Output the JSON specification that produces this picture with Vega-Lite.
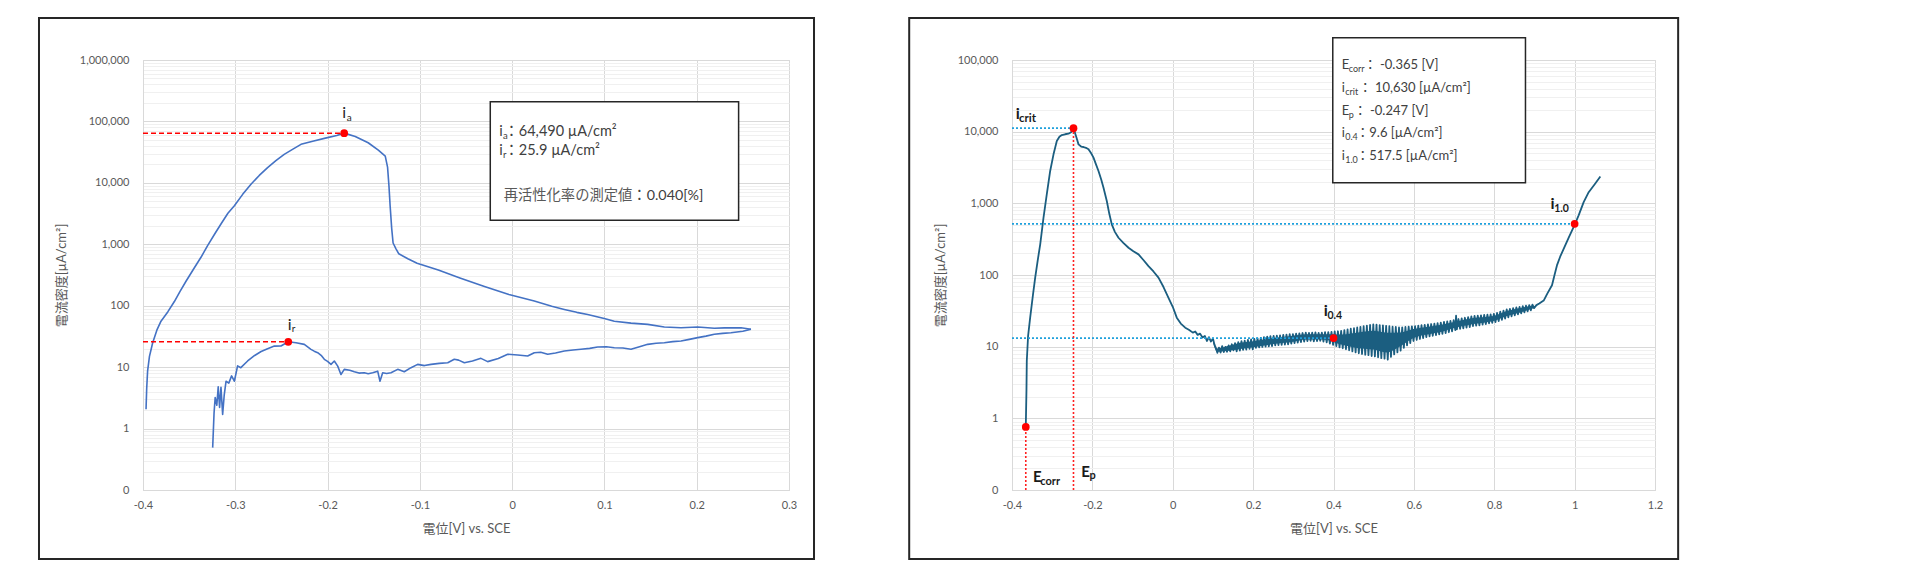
{
  "$schema": "https://vega.github.io/schema/vega-lite/v6.json",
  "background": "white",
  "padding": {"left": 37, "top": 16, "right": 5, "bottom": 5},
  "spacing": 91,
  "config": {
    "font": "Lato, 'Noto Sans CJK JP', sans-serif",
    "view": {"stroke": "#d9d9d9"},
    "axis": {
      "labelFont": "Lato, 'Noto Sans CJK JP', sans-serif",
      "labelFontSize": 11,
      "labelColor": "#595959",
      "titleFont": "Lato, 'Noto Sans CJK JP', sans-serif",
      "titleFontSize": 13,
      "titleFontWeight": "normal",
      "titleColor": "#595959",
      "domainColor": "#d9d9d9",
      "gridColor": "#d9d9d9",
      "ticks": false,
      "labelFlush": false,
      "labelOverlap": false
    },
    "text": {"font": "Lato, 'Noto Sans CJK JP', sans-serif"}
  },
  "datasets": {
    "left_curve": [
      {"scan": "f", "v": -0.3967, "i": 2.06}, {"scan": "f", "v": -0.396, "i": 4.5}, {"scan": "f", "v": -0.395, "i": 8.7},
      {"scan": "f", "v": -0.393, "i": 15}, {"scan": "f", "v": -0.3895, "i": 25}, {"scan": "f", "v": -0.385, "i": 40},
      {"scan": "f", "v": -0.3805, "i": 56}, {"scan": "f", "v": -0.373, "i": 80}, {"scan": "f", "v": -0.366, "i": 117},
      {"scan": "f", "v": -0.36, "i": 170}, {"scan": "f", "v": -0.3534, "i": 250}, {"scan": "f", "v": -0.345, "i": 400},
      {"scan": "f", "v": -0.337, "i": 620}, {"scan": "f", "v": -0.33, "i": 950}, {"scan": "f", "v": -0.322, "i": 1500},
      {"scan": "f", "v": -0.315, "i": 2200}, {"scan": "f", "v": -0.308, "i": 3200}, {"scan": "f", "v": -0.301, "i": 4240},
      {"scan": "f", "v": -0.292, "i": 6500}, {"scan": "f", "v": -0.283, "i": 9500}, {"scan": "f", "v": -0.274, "i": 13200},
      {"scan": "f", "v": -0.265, "i": 17700}, {"scan": "f", "v": -0.256, "i": 23000}, {"scan": "f", "v": -0.247, "i": 29100},
      {"scan": "f", "v": -0.238, "i": 35000}, {"scan": "f", "v": -0.2288, "i": 42400}, {"scan": "f", "v": -0.215, "i": 48000},
      {"scan": "f", "v": -0.2024, "i": 53500}, {"scan": "f", "v": -0.19, "i": 59000}, {"scan": "f", "v": -0.182, "i": 64490},
      {"scan": "f", "v": -0.17, "i": 57000}, {"scan": "f", "v": -0.156, "i": 45000}, {"scan": "f", "v": -0.145, "i": 34000},
      {"scan": "f", "v": -0.1375, "i": 27200}, {"scan": "f", "v": -0.135, "i": 18000}, {"scan": "f", "v": -0.1335, "i": 9000},
      {"scan": "f", "v": -0.1322, "i": 4200}, {"scan": "f", "v": -0.1305, "i": 1800}, {"scan": "f", "v": -0.129, "i": 1050},
      {"scan": "f", "v": -0.126, "i": 850}, {"scan": "f", "v": -0.1228, "i": 700}, {"scan": "f", "v": -0.113, "i": 580},
      {"scan": "f", "v": -0.103, "i": 492}, {"scan": "f", "v": -0.08, "i": 380}, {"scan": "f", "v": -0.0566, "i": 283},
      {"scan": "f", "v": -0.03, "i": 205}, {"scan": "f", "v": -0.0035, "i": 152}, {"scan": "f", "v": 0.024, "i": 119},
      {"scan": "f", "v": 0.0429, "i": 98}, {"scan": "f", "v": 0.0565, "i": 87}, {"scan": "f", "v": 0.07, "i": 78},
      {"scan": "f", "v": 0.0818, "i": 72}, {"scan": "f", "v": 0.0998, "i": 62}, {"scan": "f", "v": 0.1107, "i": 56},
      {"scan": "f", "v": 0.1288, "i": 52}, {"scan": "f", "v": 0.1469, "i": 49.7}, {"scan": "f", "v": 0.1649, "i": 45},
      {"scan": "f", "v": 0.183, "i": 43.8}, {"scan": "f", "v": 0.2011, "i": 45}, {"scan": "f", "v": 0.2191, "i": 42.9},
      {"scan": "f", "v": 0.23, "i": 43.5}, {"scan": "f", "v": 0.248, "i": 43.8}, {"scan": "f", "v": 0.2588, "i": 41.3},
      {"scan": "r", "v": 0.2588, "i": 41.3}, {"scan": "r", "v": 0.25, "i": 38.5}, {"scan": "r", "v": 0.2371, "i": 36.4},
      {"scan": "r", "v": 0.228, "i": 35.5}, {"scan": "r", "v": 0.2191, "i": 34.3}, {"scan": "r", "v": 0.21, "i": 32},
      {"scan": "r", "v": 0.2011, "i": 30.2}, {"scan": "r", "v": 0.192, "i": 28.3}, {"scan": "r", "v": 0.183, "i": 26.7},
      {"scan": "r", "v": 0.174, "i": 26}, {"scan": "r", "v": 0.1649, "i": 25}, {"scan": "r", "v": 0.156, "i": 24.5},
      {"scan": "r", "v": 0.1469, "i": 23.5}, {"scan": "r", "v": 0.138, "i": 21.5}, {"scan": "r", "v": 0.1288, "i": 19.5},
      {"scan": "r", "v": 0.12, "i": 20.5}, {"scan": "r", "v": 0.1107, "i": 20.7}, {"scan": "r", "v": 0.102, "i": 21.5},
      {"scan": "r", "v": 0.0927, "i": 21.3}, {"scan": "r", "v": 0.084, "i": 20.2}, {"scan": "r", "v": 0.0746, "i": 19.5},
      {"scan": "r", "v": 0.066, "i": 19}, {"scan": "r", "v": 0.0565, "i": 18.3}, {"scan": "r", "v": 0.047, "i": 17},
      {"scan": "r", "v": 0.0385, "i": 16.2}, {"scan": "r", "v": 0.031, "i": 17.5}, {"scan": "r", "v": 0.024, "i": 17.2},
      {"scan": "r", "v": 0.0168, "i": 15.2}, {"scan": "r", "v": 0.006, "i": 15.8}, {"scan": "r", "v": -0.0048, "i": 16.2},
      {"scan": "r", "v": -0.015, "i": 13.8}, {"scan": "r", "v": -0.0265, "i": 12.3}, {"scan": "r", "v": -0.0338, "i": 13.9},
      {"scan": "r", "v": -0.043, "i": 12.6}, {"scan": "r", "v": -0.0518, "i": 11.8}, {"scan": "r", "v": -0.058, "i": 13},
      {"scan": "r", "v": -0.0627, "i": 13.4}, {"scan": "r", "v": -0.0698, "i": 11.8}, {"scan": "r", "v": -0.079, "i": 11.5},
      {"scan": "r", "v": -0.0879, "i": 11.1}, {"scan": "r", "v": -0.095, "i": 10.6}, {"scan": "r", "v": -0.1024, "i": 11.1},
      {"scan": "r", "v": -0.1096, "i": 9.8}, {"scan": "r", "v": -0.1169, "i": 8.4}, {"scan": "r", "v": -0.124, "i": 9.2},
      {"scan": "r", "v": -0.1313, "i": 8.1}, {"scan": "r", "v": -0.136, "i": 7.9}, {"scan": "r", "v": -0.1403, "i": 8.1},
      {"scan": "r", "v": -0.1432, "i": 5.9}, {"scan": "r", "v": -0.1457, "i": 8.6}, {"scan": "r", "v": -0.1511, "i": 8.1},
      {"scan": "r", "v": -0.156, "i": 7.8}, {"scan": "r", "v": -0.1602, "i": 8.1}, {"scan": "r", "v": -0.166, "i": 8},
      {"scan": "r", "v": -0.171, "i": 8.4}, {"scan": "r", "v": -0.176, "i": 8.9}, {"scan": "r", "v": -0.1819, "i": 9.2},
      {"scan": "r", "v": -0.1855, "i": 7.6}, {"scan": "r", "v": -0.189, "i": 10.4}, {"scan": "r", "v": -0.1927, "i": 12.6},
      {"scan": "r", "v": -0.1963, "i": 11.1}, {"scan": "r", "v": -0.2, "i": 12.4}, {"scan": "r", "v": -0.2035, "i": 13.4},
      {"scan": "r", "v": -0.207, "i": 15.6}, {"scan": "r", "v": -0.2107, "i": 17.2}, {"scan": "r", "v": -0.2145, "i": 18.2},
      {"scan": "r", "v": -0.218, "i": 19.5}, {"scan": "r", "v": -0.2252, "i": 23.5}, {"scan": "r", "v": -0.2342, "i": 25},
      {"scan": "r", "v": -0.2426, "i": 25.9}, {"scan": "r", "v": -0.2505, "i": 22.1}, {"scan": "r", "v": -0.2577, "i": 22},
      {"scan": "r", "v": -0.265, "i": 20}, {"scan": "r", "v": -0.272, "i": 18}, {"scan": "r", "v": -0.279, "i": 15.5},
      {"scan": "r", "v": -0.2866, "i": 12.6}, {"scan": "r", "v": -0.294, "i": 9.8}, {"scan": "r", "v": -0.2975, "i": 10.5},
      {"scan": "r", "v": -0.301, "i": 5.9}, {"scan": "r", "v": -0.304, "i": 7.2}, {"scan": "r", "v": -0.307, "i": 5.5},
      {"scan": "r", "v": -0.31, "i": 5.9}, {"scan": "r", "v": -0.312, "i": 3.5}, {"scan": "r", "v": -0.3137, "i": 1.7},
      {"scan": "r", "v": -0.3155, "i": 4.7}, {"scan": "r", "v": -0.317, "i": 2.2}, {"scan": "r", "v": -0.3185, "i": 4.8},
      {"scan": "r", "v": -0.32, "i": 2.4}, {"scan": "r", "v": -0.3218, "i": 3.2}, {"scan": "r", "v": -0.323, "i": 1.8},
      {"scan": "r", "v": -0.3245, "i": 0.49}
    ],
    "left_marks": [
      {"name": "ia", "v": -0.182, "i": 64490},
      {"name": "ir", "v": -0.2426, "i": 25.9}
    ],
    "left_guides": [
      {"g": "ia", "v": -0.4, "i": 64490}, {"g": "ia", "v": -0.182, "i": 64490},
      {"g": "ir", "v": -0.4, "i": 25.9}, {"g": "ir", "v": -0.2426, "i": 25.9}
    ],
    "right_curve": [
      {"v": -0.3657, "i": 0.76}, {"v": -0.364, "i": 2.5}, {"v": -0.3632, "i": 6.3}, {"v": -0.36, "i": 14},
      {"v": -0.3548, "i": 25.4}, {"v": -0.348, "i": 52}, {"v": -0.3423, "i": 92}, {"v": -0.336, "i": 160},
      {"v": -0.3298, "i": 268}, {"v": -0.3216, "i": 631}, {"v": -0.3134, "i": 1340}, {"v": -0.305, "i": 2830},
      {"v": -0.2967, "i": 4830}, {"v": -0.2885, "i": 7410}, {"v": -0.282, "i": 8500}, {"v": -0.276, "i": 8980},
      {"v": -0.268, "i": 9200}, {"v": -0.2594, "i": 9370}, {"v": -0.253, "i": 9800}, {"v": -0.247, "i": 11200},
      {"v": -0.24, "i": 8400}, {"v": -0.2345, "i": 6650}, {"v": -0.228, "i": 6200}, {"v": -0.2221, "i": 6110},
      {"v": -0.216, "i": 5950}, {"v": -0.2097, "i": 5680}, {"v": -0.203, "i": 5000}, {"v": -0.1972, "i": 4340},
      {"v": -0.191, "i": 3500}, {"v": -0.1848, "i": 2830}, {"v": -0.178, "i": 2150}, {"v": -0.1723, "i": 1650},
      {"v": -0.1641, "i": 1077}, {"v": -0.158, "i": 720}, {"v": -0.1517, "i": 509}, {"v": -0.144, "i": 400},
      {"v": -0.135, "i": 331}, {"v": -0.123, "i": 280}, {"v": -0.1101, "i": 240}, {"v": -0.098, "i": 215},
      {"v": -0.0852, "i": 194}, {"v": -0.073, "i": 162}, {"v": -0.0604, "i": 133}, {"v": -0.048, "i": 112},
      {"v": -0.0355, "i": 92}, {"v": -0.023, "i": 68}, {"v": -0.0106, "i": 48}, {"v": 0, "i": 36},
      {"v": 0.01, "i": 25.4}, {"v": 0.02, "i": 21}, {"v": 0.031, "i": 18.4}, {"v": 0.04, "i": 17.2},
      {"v": 0.05, "i": 15.7}, {"v": 0.056, "i": 16.3}, {"v": 0.062, "i": 14.6}, {"v": 0.068, "i": 15.2},
      {"v": 0.074, "i": 13.4}, {"v": 0.08, "i": 14.1}, {"v": 0.085, "i": 12}, {"v": 0.09, "i": 13.6},
      {"v": 0.095, "i": 11.8}, {"v": 0.1, "i": 13}, {"v": 0.104, "i": 10.6}, {"v": 0.108, "i": 9.4},
      {"v": 0.111, "i": 8.2}, {"v": 0.115, "i": 9.7}, {"v": 0.119, "i": 8.3}, {"v": 0.123, "i": 10.2},
      {"v": 0.127, "i": 8.4}, {"v": 0.131, "i": 9.9}, {"v": 0.135, "i": 8.5}, {"v": 0.139, "i": 10.4},
      {"v": 0.143, "i": 8.6}, {"v": 0.147, "i": 10.8}, {"v": 0.151, "i": 8.9}, {"v": 0.155, "i": 11.2},
      {"v": 0.159, "i": 8.6}, {"v": 0.163, "i": 11.6}, {"v": 0.167, "i": 8.8}, {"v": 0.171, "i": 11.9},
      {"v": 0.175, "i": 9}, {"v": 0.179, "i": 12.1}, {"v": 0.183, "i": 9.1}, {"v": 0.187, "i": 12.4},
      {"v": 0.191, "i": 9.3}, {"v": 0.195, "i": 12.6}, {"v": 0.199, "i": 9.2}, {"v": 0.203, "i": 12.8},
      {"v": 0.207, "i": 9.6}, {"v": 0.211, "i": 13}, {"v": 0.215, "i": 9.8}, {"v": 0.219, "i": 13.3},
      {"v": 0.223, "i": 9.9}, {"v": 0.227, "i": 13.6}, {"v": 0.231, "i": 10}, {"v": 0.235, "i": 13.8},
      {"v": 0.239, "i": 10.1}, {"v": 0.243, "i": 14}, {"v": 0.247, "i": 10.2}, {"v": 0.251, "i": 14.1},
      {"v": 0.255, "i": 10.4}, {"v": 0.259, "i": 14.2}, {"v": 0.263, "i": 10.5}, {"v": 0.267, "i": 14.4},
      {"v": 0.271, "i": 10.6}, {"v": 0.275, "i": 14.6}, {"v": 0.279, "i": 10.7}, {"v": 0.283, "i": 14.7},
      {"v": 0.287, "i": 10.8}, {"v": 0.291, "i": 14.9}, {"v": 0.295, "i": 11}, {"v": 0.299, "i": 15},
      {"v": 0.303, "i": 11.2}, {"v": 0.307, "i": 15.2}, {"v": 0.311, "i": 11.4}, {"v": 0.315, "i": 15.3},
      {"v": 0.319, "i": 11.6}, {"v": 0.323, "i": 15.5}, {"v": 0.327, "i": 11.8}, {"v": 0.331, "i": 15.7},
      {"v": 0.335, "i": 12}, {"v": 0.339, "i": 15.6}, {"v": 0.343, "i": 12.1}, {"v": 0.347, "i": 15.7},
      {"v": 0.351, "i": 11.9}, {"v": 0.355, "i": 15.8}, {"v": 0.359, "i": 12}, {"v": 0.363, "i": 15.6},
      {"v": 0.367, "i": 12.1}, {"v": 0.371, "i": 15.7}, {"v": 0.375, "i": 11.8}, {"v": 0.379, "i": 15.9},
      {"v": 0.383, "i": 11.5}, {"v": 0.387, "i": 16}, {"v": 0.391, "i": 11}, {"v": 0.395, "i": 16.1},
      {"v": 0.399, "i": 10.6}, {"v": 0.403, "i": 16.3}, {"v": 0.407, "i": 10.2}, {"v": 0.411, "i": 16.4},
      {"v": 0.415, "i": 9.8}, {"v": 0.419, "i": 16.6}, {"v": 0.423, "i": 9.5}, {"v": 0.427, "i": 17},
      {"v": 0.431, "i": 9.2}, {"v": 0.435, "i": 17.4}, {"v": 0.439, "i": 8.9}, {"v": 0.443, "i": 17.8},
      {"v": 0.447, "i": 8.6}, {"v": 0.451, "i": 18.1}, {"v": 0.455, "i": 8.3}, {"v": 0.459, "i": 18.5},
      {"v": 0.463, "i": 8.1}, {"v": 0.467, "i": 18.9}, {"v": 0.471, "i": 7.9}, {"v": 0.475, "i": 19.3},
      {"v": 0.479, "i": 7.7}, {"v": 0.483, "i": 19.7}, {"v": 0.487, "i": 7.6}, {"v": 0.491, "i": 20.1},
      {"v": 0.495, "i": 7.4}, {"v": 0.499, "i": 20.5}, {"v": 0.503, "i": 7.3}, {"v": 0.507, "i": 20.3},
      {"v": 0.511, "i": 7.1}, {"v": 0.515, "i": 20}, {"v": 0.519, "i": 6.9}, {"v": 0.523, "i": 19.8},
      {"v": 0.527, "i": 6.8}, {"v": 0.531, "i": 19.5}, {"v": 0.535, "i": 6.6}, {"v": 0.539, "i": 19.3},
      {"v": 0.543, "i": 7.2}, {"v": 0.547, "i": 19}, {"v": 0.551, "i": 7.8}, {"v": 0.555, "i": 18.8},
      {"v": 0.559, "i": 8.3}, {"v": 0.563, "i": 18.5}, {"v": 0.567, "i": 8.8}, {"v": 0.571, "i": 18.6},
      {"v": 0.575, "i": 9.6}, {"v": 0.579, "i": 18.8}, {"v": 0.583, "i": 10.4}, {"v": 0.587, "i": 19},
      {"v": 0.591, "i": 11.2}, {"v": 0.595, "i": 19.2}, {"v": 0.599, "i": 12}, {"v": 0.603, "i": 19.4},
      {"v": 0.607, "i": 12.4}, {"v": 0.611, "i": 19.7}, {"v": 0.615, "i": 12.8}, {"v": 0.619, "i": 19.9},
      {"v": 0.623, "i": 13.2}, {"v": 0.627, "i": 20.2}, {"v": 0.631, "i": 13.6}, {"v": 0.635, "i": 20.4},
      {"v": 0.639, "i": 13.9}, {"v": 0.643, "i": 20.7}, {"v": 0.647, "i": 14.2}, {"v": 0.651, "i": 20.9},
      {"v": 0.655, "i": 14.5}, {"v": 0.659, "i": 21.3}, {"v": 0.663, "i": 14.8}, {"v": 0.667, "i": 21.7},
      {"v": 0.671, "i": 15.1}, {"v": 0.675, "i": 22.1}, {"v": 0.679, "i": 15.5}, {"v": 0.683, "i": 22.5},
      {"v": 0.687, "i": 15.9}, {"v": 0.691, "i": 22.9}, {"v": 0.695, "i": 16.4}, {"v": 0.699, "i": 23.4},
      {"v": 0.703, "i": 17}, {"v": 0.705, "i": 27}, {"v": 0.707, "i": 17.5}, {"v": 0.711, "i": 24.3},
      {"v": 0.715, "i": 17.7}, {"v": 0.719, "i": 24.8}, {"v": 0.723, "i": 18}, {"v": 0.727, "i": 25.3},
      {"v": 0.731, "i": 18.4}, {"v": 0.735, "i": 25.8}, {"v": 0.739, "i": 18.8}, {"v": 0.743, "i": 26.4},
      {"v": 0.747, "i": 19.3}, {"v": 0.751, "i": 26.9}, {"v": 0.755, "i": 19.6}, {"v": 0.759, "i": 27.1},
      {"v": 0.763, "i": 19.9}, {"v": 0.767, "i": 27.4}, {"v": 0.771, "i": 20.3}, {"v": 0.775, "i": 27.7},
      {"v": 0.779, "i": 20.7}, {"v": 0.783, "i": 28}, {"v": 0.787, "i": 21.1}, {"v": 0.791, "i": 28.2},
      {"v": 0.795, "i": 21.5}, {"v": 0.799, "i": 28.6}, {"v": 0.803, "i": 22}, {"v": 0.807, "i": 29.6},
      {"v": 0.811, "i": 22.8}, {"v": 0.815, "i": 30.7}, {"v": 0.819, "i": 23.6}, {"v": 0.823, "i": 31.7},
      {"v": 0.827, "i": 24.6}, {"v": 0.831, "i": 33}, {"v": 0.835, "i": 25.6}, {"v": 0.839, "i": 33.6},
      {"v": 0.843, "i": 26.5}, {"v": 0.847, "i": 34.4}, {"v": 0.851, "i": 27.4}, {"v": 0.855, "i": 35.2},
      {"v": 0.859, "i": 28.3}, {"v": 0.863, "i": 35.9}, {"v": 0.867, "i": 29.2}, {"v": 0.871, "i": 36.8},
      {"v": 0.875, "i": 30.2}, {"v": 0.879, "i": 37.3}, {"v": 0.883, "i": 31.1}, {"v": 0.887, "i": 37.9},
      {"v": 0.891, "i": 32.2}, {"v": 0.895, "i": 38.6}, {"v": 0.899, "i": 34.5}, {"v": 0.905, "i": 38},
      {"v": 0.912, "i": 40}, {"v": 0.923, "i": 44}, {"v": 0.932, "i": 55}, {"v": 0.9437, "i": 72},
      {"v": 0.95, "i": 100}, {"v": 0.956, "i": 136}, {"v": 0.964, "i": 180}, {"v": 0.9727, "i": 232},
      {"v": 0.985, "i": 330}, {"v": 1, "i": 500}, {"v": 1.01, "i": 680}, {"v": 1.0225, "i": 1040},
      {"v": 1.035, "i": 1430}, {"v": 1.05, "i": 1850}, {"v": 1.064, "i": 2370}
    ],
    "right_band": [
      {"v": 0.1, "lo": 11.5, "hi": 13}, {"v": 0.11, "lo": 8.5, "hi": 9.4}, {"v": 0.126, "lo": 8.6, "hi": 9.8},
      {"v": 0.168, "lo": 9.3, "hi": 11.3}, {"v": 0.201, "lo": 9.8, "hi": 11.9}, {"v": 0.25, "lo": 10.9, "hi": 13.2},
      {"v": 0.292, "lo": 11.5, "hi": 14}, {"v": 0.333, "lo": 12.6, "hi": 14.9}, {"v": 0.375, "lo": 12.6, "hi": 14.9},
      {"v": 0.4166, "lo": 10.8, "hi": 14.8}, {"v": 0.458, "lo": 9.6, "hi": 15.7}, {"v": 0.4995, "lo": 9.1, "hi": 16.7},
      {"v": 0.5326, "lo": 8.3, "hi": 15.7}, {"v": 0.566, "lo": 10.1, "hi": 15.8}, {"v": 0.599, "lo": 13.2, "hi": 17.6},
      {"v": 0.6655, "lo": 16, "hi": 20.1}, {"v": 0.7068, "lo": 18.7, "hi": 22.5}, {"v": 0.7483, "lo": 20.7, "hi": 25.1},
      {"v": 0.798, "lo": 22.8, "hi": 26.8}, {"v": 0.8312, "lo": 26.8, "hi": 31.5}, {"v": 0.8727, "lo": 31, "hi": 35.3},
      {"v": 0.8976, "lo": 34.3, "hi": 37.8}
    ],
    "right_marks": [
      {"name": "Ecorr", "v": -0.3657, "i": 0.76},
      {"name": "icrit", "v": -0.247, "i": 11200},
      {"name": "i0.4", "v": 0.4, "i": 13.2},
      {"name": "i1.0", "v": 1.0, "i": 517.5}
    ],
    "right_hguides": [
      {"g": "icrit", "v": -0.4, "i": 11200}, {"g": "icrit", "v": -0.247, "i": 11200},
      {"g": "i0.4", "v": -0.4, "i": 13.2}, {"g": "i0.4", "v": 0.4, "i": 13.2},
      {"g": "i1.0", "v": -0.4, "i": 517.5}, {"g": "i1.0", "v": 1.0, "i": 517.5}
    ],
    "right_vguides": [
      {"g": "Ecorr", "v": -0.3657, "i": 0.1}, {"g": "Ecorr", "v": -0.3657, "i": 0.76},
      {"g": "Ep", "v": -0.247, "i": 0.1}, {"g": "Ep", "v": -0.247, "i": 11200}
    ]
  },
  "hconcat": [
    {
      "width": 646,
      "height": 430,
      "layer": [
        {
          "data": {"name": "left_curve"},
          "mark": {"type": "line", "color": "#4472C4", "strokeWidth": 1.6, "strokeJoin": "round"},
          "encoding": {
            "x": {
              "field": "v", "type": "quantitative",
              "scale": {"domain": [-0.4, 0.3]},
              "axis": {
                "title": "電位[V] vs. SCE",
                "values": [-0.4, -0.3, -0.2, -0.1, 0, 0.1, 0.2, 0.3],
                "format": ".1~f",
                "labelExpr": "replace(datum.label, '−', '-')",
                "labelPadding": 9,
                "titlePadding": 12
              }
            },
            "y": {
              "field": "i", "type": "quantitative",
              "scale": {"type": "log", "domain": [0.1, 1000000]},
              "axis": {
                "title": "電流密度[µA/cm²]",
                "values": [0.1, 0.2, 0.3, 0.4, 0.5, 0.6, 0.7, 0.8, 0.9, 1, 2, 3, 4, 5, 6, 7, 8, 9, 10, 20, 30, 40, 50, 60, 70, 80, 90, 100, 200, 300, 400, 500, 600, 700, 800, 900, 1000, 2000, 3000, 4000, 5000, 6000, 7000, 8000, 9000, 10000, 20000, 30000, 40000, 50000, 60000, 70000, 80000, 90000, 100000, 200000, 300000, 400000, 500000, 600000, 700000, 800000, 900000, 1000000],
                "labelExpr": "abs(log(datum.value) / LN10 - round(log(datum.value) / LN10)) > 0.01 ? '' : (datum.value < 0.5 ? '0' : format(datum.value, ','))",
                "gridColor": {"condition": {"test": "abs(log(datum.value) / LN10 - round(log(datum.value) / LN10)) < 0.01", "value": "#d9d9d9"}, "value": "#f0f0f0"},
                "labelPadding": 14,
                "titlePadding": 11
              }
            },
            "detail": {"field": "scan", "type": "nominal"}
          }
        },
        {
          "data": {"name": "left_guides"},
          "mark": {"type": "line", "color": "#ff0000", "strokeWidth": 1.5, "strokeDash": [5, 3]},
          "encoding": {
            "x": {"field": "v", "type": "quantitative"},
            "y": {"field": "i", "type": "quantitative"},
            "detail": {"field": "g", "type": "nominal"}
          }
        },
        {
          "data": {"name": "left_marks"},
          "mark": {"type": "circle", "color": "#ff0000", "size": 60, "opacity": 1},
          "encoding": {
            "x": {"field": "v", "type": "quantitative"},
            "y": {"field": "i", "type": "quantitative"}
          }
        },
        {
          "data": {"values": [{}]},
          "mark": {"type": "text", "text": "i", "fontSize": 16, "color": "#262626", "align": "left", "baseline": "alphabetic", "dx": -2, "dy": -15},
          "encoding": {"x": {"datum": -0.182, "type": "quantitative"}, "y": {"datum": 64490, "type": "quantitative"}}
        },
        {
          "data": {"values": [{}]},
          "mark": {"type": "text", "text": "a", "fontSize": 10, "color": "#262626", "align": "left", "baseline": "alphabetic", "dx": 2.5, "dy": -12},
          "encoding": {"x": {"datum": -0.182, "type": "quantitative"}, "y": {"datum": 64490, "type": "quantitative"}}
        },
        {
          "data": {"values": [{}]},
          "mark": {"type": "text", "text": "i", "fontSize": 16, "color": "#262626", "align": "left", "baseline": "alphabetic", "dx": -0.5, "dy": -12},
          "encoding": {"x": {"datum": -0.2426, "type": "quantitative"}, "y": {"datum": 25.9, "type": "quantitative"}}
        },
        {
          "data": {"values": [{}]},
          "mark": {"type": "text", "text": "r", "fontSize": 10, "color": "#262626", "align": "left", "baseline": "alphabetic", "dx": 3.5, "dy": -10},
          "encoding": {"x": {"datum": -0.2426, "type": "quantitative"}, "y": {"datum": 25.9, "type": "quantitative"}}
        },
        {
          "data": {"values": [{}]},
          "mark": {"type": "rect", "fill": "white", "stroke": "#262626", "strokeWidth": 1.5},
          "encoding": {
            "x": {"datum": -0.0237, "type": "quantitative"}, "x2": {"datum": 0.2454, "type": "quantitative"},
            "y": {"datum": 209400, "type": "quantitative"}, "y2": {"datum": 2455, "type": "quantitative"}
          }
        },
        {
          "data": {"values": [{}]},
          "mark": {"type": "text", "text": ["i", "i"], "lineHeight": 19.3, "fontSize": 14.5, "color": "#404040", "align": "left", "baseline": "alphabetic", "dx": 9, "dy": 34.3},
          "encoding": {"x": {"datum": -0.0237, "type": "quantitative"}, "y": {"datum": 209400, "type": "quantitative"}}
        },
        {
          "data": {"values": [{}]},
          "mark": {"type": "text", "text": ["a", "r"], "lineHeight": 19.3, "fontSize": 9.5, "color": "#404040", "align": "left", "baseline": "alphabetic", "dx": 12.8, "dy": 37.3},
          "encoding": {"x": {"datum": -0.0237, "type": "quantitative"}, "y": {"datum": 209400, "type": "quantitative"}}
        },
        {
          "data": {"values": [{}]},
          "mark": {"type": "text", "text": ["：64,490 µA/cm²", "：25.9 µA/cm²"], "lineHeight": 19.3, "fontSize": 14.5, "color": "#404040", "align": "left", "baseline": "alphabetic", "dx": 14, "dy": 34.3},
          "encoding": {"x": {"datum": -0.0237, "type": "quantitative"}, "y": {"datum": 209400, "type": "quantitative"}}
        },
        {
          "data": {"values": [{}]},
          "mark": {"type": "text", "text": "再活性化率の測定値", "fontSize": 14.3, "color": "#595959", "align": "left", "baseline": "alphabetic", "dx": 13.4, "dy": 98.6},
          "encoding": {"x": {"datum": -0.0237, "type": "quantitative"}, "y": {"datum": 209400, "type": "quantitative"}}
        },
        {
          "data": {"values": [{}]},
          "mark": {"type": "text", "text": "：0.040[%]", "fontSize": 14.3, "color": "#404040", "align": "left", "baseline": "alphabetic", "dx": 142.1, "dy": 98.6},
          "encoding": {"x": {"datum": -0.0237, "type": "quantitative"}, "y": {"datum": 209400, "type": "quantitative"}}
        },
        {
          "data": {"values": [{}]},
          "mark": {"type": "rect", "filled": false, "color": "#262626", "strokeWidth": 2},
          "encoding": {
            "x": {"datum": -0.5127, "type": "quantitative"}, "x2": {"datum": 0.3271, "type": "quantitative"},
            "y": {"datum": 4826000, "type": "quantitative"}, "y2": {"datum": 0.007527, "type": "quantitative"}
          }
        }
      ]
    },
    {
      "width": 643,
      "height": 430,
      "layer": [
        {
          "data": {"name": "right_curve"},
          "mark": {"type": "line", "color": "#1b5e80", "strokeWidth": 1.8, "strokeJoin": "round"},
          "encoding": {
            "x": {
              "field": "v", "type": "quantitative",
              "scale": {"domain": [-0.4, 1.2]},
              "axis": {
                "title": "電位[V] vs. SCE",
                "values": [-0.4, -0.2, 0, 0.2, 0.4, 0.6, 0.8, 1, 1.2],
                "format": ".1~f",
                "labelExpr": "replace(datum.label, '−', '-')",
                "labelPadding": 9,
                "titlePadding": 12
              }
            },
            "y": {
              "field": "i", "type": "quantitative",
              "scale": {"type": "log", "domain": [0.1, 100000]},
              "axis": {
                "title": "電流密度[µA/cm²]",
                "values": [0.1, 0.2, 0.3, 0.4, 0.5, 0.6, 0.7, 0.8, 0.9, 1, 2, 3, 4, 5, 6, 7, 8, 9, 10, 20, 30, 40, 50, 60, 70, 80, 90, 100, 200, 300, 400, 500, 600, 700, 800, 900, 1000, 2000, 3000, 4000, 5000, 6000, 7000, 8000, 9000, 10000, 20000, 30000, 40000, 50000, 60000, 70000, 80000, 90000, 100000],
                "labelExpr": "abs(log(datum.value) / LN10 - round(log(datum.value) / LN10)) > 0.01 ? '' : (datum.value < 0.5 ? '0' : format(datum.value, ','))",
                "gridColor": {"condition": {"test": "abs(log(datum.value) / LN10 - round(log(datum.value) / LN10)) < 0.01", "value": "#d9d9d9"}, "value": "#f0f0f0"},
                "labelPadding": 14,
                "titlePadding": 10
              }
            }
          }
        },
        {
          "data": {"name": "right_band"},
          "mark": {"type": "area", "color": "#1b5e80", "opacity": 1, "interpolate": "monotone"},
          "encoding": {
            "x": {"field": "v", "type": "quantitative"},
            "y": {"field": "lo", "type": "quantitative"},
            "y2": {"field": "hi"}
          }
        },
        {
          "data": {"name": "right_hguides"},
          "mark": {"type": "line", "color": "#1ea0dc", "strokeWidth": 1.8, "strokeDash": [2, 2]},
          "encoding": {
            "x": {"field": "v", "type": "quantitative"},
            "y": {"field": "i", "type": "quantitative"},
            "detail": {"field": "g", "type": "nominal"}
          }
        },
        {
          "data": {"name": "right_vguides"},
          "mark": {"type": "line", "color": "#ff2020", "strokeWidth": 1.6, "strokeDash": [2, 2]},
          "encoding": {
            "x": {"field": "v", "type": "quantitative"},
            "y": {"field": "i", "type": "quantitative"},
            "detail": {"field": "g", "type": "nominal"}
          }
        },
        {
          "data": {"name": "right_marks"},
          "mark": {"type": "circle", "color": "#ff0000", "size": 60, "opacity": 1},
          "encoding": {
            "x": {"field": "v", "type": "quantitative"},
            "y": {"field": "i", "type": "quantitative"}
          }
        },
        {
          "data": {"values": [{}]},
          "mark": {"type": "text", "text": "i", "fontSize": 16, "fontWeight": "bold", "color": "#1a1a1a", "align": "left", "baseline": "alphabetic", "dx": 3.7, "dy": -8.8},
          "encoding": {"x": {"datum": -0.4, "type": "quantitative"}, "y": {"datum": 11200, "type": "quantitative"}}
        },
        {
          "data": {"values": [{}]},
          "mark": {"type": "text", "text": "crit", "fontSize": 11.5, "fontWeight": "bold", "color": "#1a1a1a", "align": "left", "baseline": "alphabetic", "dx": 7, "dy": -6.5},
          "encoding": {"x": {"datum": -0.4, "type": "quantitative"}, "y": {"datum": 11200, "type": "quantitative"}}
        },
        {
          "data": {"values": [{}]},
          "mark": {"type": "text", "text": "E", "fontSize": 15, "fontWeight": "bold", "color": "#1a1a1a", "align": "left", "baseline": "alphabetic", "dx": 7.2, "dy": -7.7},
          "encoding": {"x": {"datum": -0.3657, "type": "quantitative"}, "y": {"datum": 0.1, "type": "quantitative"}}
        },
        {
          "data": {"values": [{}]},
          "mark": {"type": "text", "text": "corr", "fontSize": 11, "fontWeight": "bold", "color": "#1a1a1a", "align": "left", "baseline": "alphabetic", "dx": 14.5, "dy": -5.5},
          "encoding": {"x": {"datum": -0.3657, "type": "quantitative"}, "y": {"datum": 0.1, "type": "quantitative"}}
        },
        {
          "data": {"values": [{}]},
          "mark": {"type": "text", "text": "E", "fontSize": 15, "fontWeight": "bold", "color": "#1a1a1a", "align": "left", "baseline": "alphabetic", "dx": 7.8, "dy": -13.3},
          "encoding": {"x": {"datum": -0.247, "type": "quantitative"}, "y": {"datum": 0.1, "type": "quantitative"}}
        },
        {
          "data": {"values": [{}]},
          "mark": {"type": "text", "text": "p", "fontSize": 11, "fontWeight": "bold", "color": "#1a1a1a", "align": "left", "baseline": "alphabetic", "dx": 16, "dy": -11},
          "encoding": {"x": {"datum": -0.247, "type": "quantitative"}, "y": {"datum": 0.1, "type": "quantitative"}}
        },
        {
          "data": {"values": [{}]},
          "mark": {"type": "text", "text": "i", "fontSize": 16, "fontWeight": "bold", "color": "#1a1a1a", "align": "left", "baseline": "alphabetic", "dx": -9.7, "dy": -22},
          "encoding": {"x": {"datum": 0.4, "type": "quantitative"}, "y": {"datum": 13.2, "type": "quantitative"}}
        },
        {
          "data": {"values": [{}]},
          "mark": {"type": "text", "text": "0.4", "fontSize": 10.5, "fontWeight": "bold", "color": "#1a1a1a", "align": "left", "baseline": "alphabetic", "dx": -6, "dy": -19.5},
          "encoding": {"x": {"datum": 0.4, "type": "quantitative"}, "y": {"datum": 13.2, "type": "quantitative"}}
        },
        {
          "data": {"values": [{}]},
          "mark": {"type": "text", "text": "i", "fontSize": 16, "fontWeight": "bold", "color": "#1a1a1a", "align": "left", "baseline": "alphabetic", "dx": -24.2, "dy": -14.5},
          "encoding": {"x": {"datum": 1.0, "type": "quantitative"}, "y": {"datum": 517.5, "type": "quantitative"}}
        },
        {
          "data": {"values": [{}]},
          "mark": {"type": "text", "text": "1.0", "fontSize": 10.5, "fontWeight": "bold", "color": "#1a1a1a", "align": "left", "baseline": "alphabetic", "dx": -20.5, "dy": -12},
          "encoding": {"x": {"datum": 1.0, "type": "quantitative"}, "y": {"datum": 517.5, "type": "quantitative"}}
        },
        {
          "data": {"values": [{}]},
          "mark": {"type": "rect", "fill": "white", "stroke": "#262626", "strokeWidth": 1.5},
          "encoding": {
            "x": {"datum": 0.3982, "type": "quantitative"}, "x2": {"datum": 0.8777, "type": "quantitative"},
            "y": {"datum": 204700, "type": "quantitative"}, "y2": {"datum": 1941, "type": "quantitative"}
          }
        },
        {
          "data": {"values": [{}]},
          "mark": {"type": "text", "text": ["E", "i", "E", "i", "i"], "lineHeight": 22.9, "fontSize": 13, "color": "#404040", "align": "left", "baseline": "alphabetic", "dx": 9, "dy": 31},
          "encoding": {"x": {"datum": 0.3982, "type": "quantitative"}, "y": {"datum": 204700, "type": "quantitative"}}
        },
        {
          "data": {"values": [{}]},
          "mark": {"type": "text", "text": "corr", "fontSize": 9, "color": "#404040", "align": "left", "baseline": "alphabetic", "dx": 16, "dy": 34},
          "encoding": {"x": {"datum": 0.3982, "type": "quantitative"}, "y": {"datum": 204700, "type": "quantitative"}}
        },
        {
          "data": {"values": [{}]},
          "mark": {"type": "text", "text": "crit", "fontSize": 9, "color": "#404040", "align": "left", "baseline": "alphabetic", "dx": 12.5, "dy": 56.9},
          "encoding": {"x": {"datum": 0.3982, "type": "quantitative"}, "y": {"datum": 204700, "type": "quantitative"}}
        },
        {
          "data": {"values": [{}]},
          "mark": {"type": "text", "text": "p", "fontSize": 9, "color": "#404040", "align": "left", "baseline": "alphabetic", "dx": 16, "dy": 79.8},
          "encoding": {"x": {"datum": 0.3982, "type": "quantitative"}, "y": {"datum": 204700, "type": "quantitative"}}
        },
        {
          "data": {"values": [{}]},
          "mark": {"type": "text", "text": "0.4", "fontSize": 9, "color": "#404040", "align": "left", "baseline": "alphabetic", "dx": 12.5, "dy": 102.7},
          "encoding": {"x": {"datum": 0.3982, "type": "quantitative"}, "y": {"datum": 204700, "type": "quantitative"}}
        },
        {
          "data": {"values": [{}]},
          "mark": {"type": "text", "text": "1.0", "fontSize": 9, "color": "#404040", "align": "left", "baseline": "alphabetic", "dx": 12.5, "dy": 125.6},
          "encoding": {"x": {"datum": 0.3982, "type": "quantitative"}, "y": {"datum": 204700, "type": "quantitative"}}
        },
        {
          "data": {"values": [{}]},
          "mark": {"type": "text", "text": "： -0.365 [V]", "fontSize": 13, "color": "#404040", "align": "left", "baseline": "alphabetic", "dx": 30.9, "dy": 31},
          "encoding": {"x": {"datum": 0.3982, "type": "quantitative"}, "y": {"datum": 204700, "type": "quantitative"}}
        },
        {
          "data": {"values": [{}]},
          "mark": {"type": "text", "text": "：  10,630 [µA/cm²]", "fontSize": 13, "color": "#404040", "align": "left", "baseline": "alphabetic", "dx": 25.9, "dy": 53.9},
          "encoding": {"x": {"datum": 0.3982, "type": "quantitative"}, "y": {"datum": 204700, "type": "quantitative"}}
        },
        {
          "data": {"values": [{}]},
          "mark": {"type": "text", "text": "： -0.247 [V]", "fontSize": 13, "color": "#404040", "align": "left", "baseline": "alphabetic", "dx": 20.9, "dy": 76.8},
          "encoding": {"x": {"datum": 0.3982, "type": "quantitative"}, "y": {"datum": 204700, "type": "quantitative"}}
        },
        {
          "data": {"values": [{}]},
          "mark": {"type": "text", "text": ["：9.6 [µA/cm²]", "：517.5 [µA/cm²]"], "lineHeight": 22.9, "fontSize": 13, "color": "#404040", "align": "left", "baseline": "alphabetic", "dx": 23.5, "dy": 99.7},
          "encoding": {"x": {"datum": 0.3982, "type": "quantitative"}, "y": {"datum": 204700, "type": "quantitative"}}
        },
        {
          "data": {"values": [{}]},
          "mark": {"type": "rect", "filled": false, "color": "#262626", "strokeWidth": 2},
          "encoding": {
            "x": {"datum": -0.6558, "type": "quantitative"}, "x2": {"datum": 1.2576, "type": "quantitative"},
            "y": {"datum": 385300, "type": "quantitative"}, "y2": {"datum": 0.01089, "type": "quantitative"}
          }
        }
      ]
    }
  ]
}
